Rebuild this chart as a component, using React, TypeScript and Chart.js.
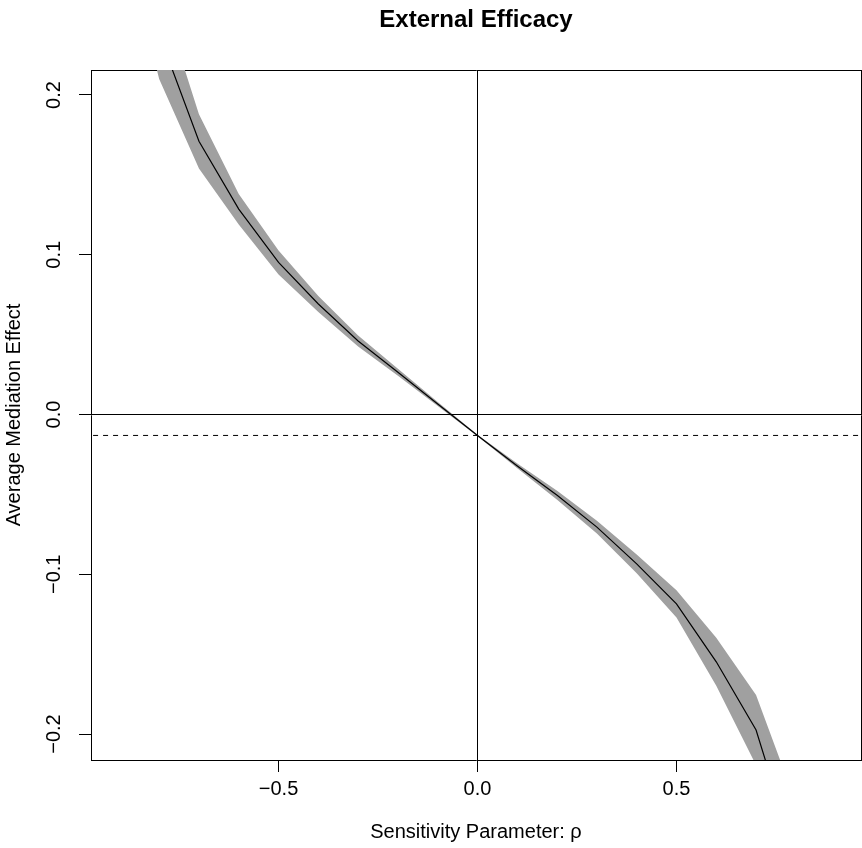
import React, { useEffect, useRef } from 'react';
import { Chart, registerables } from 'chart.js';

Chart.register(...registerables);

// ---- data ----
const rho = [-0.9, -0.8, -0.7, -0.6, -0.5, -0.4, -0.3, -0.2, -0.1, 0, 0.1, 0.2, 0.3, 0.4, 0.5, 0.6, 0.7, 0.8, 0.9];
const estimate = [0.36, 0.238, 0.171, 0.1286, 0.0952, 0.0692, 0.046, 0.0265, 0.0066, -0.0131, -0.0322, -0.0505, -0.0705, -0.0935, -0.1185, -0.1548, -0.1975, -0.278, -0.42];
const lowerCI = [0.31, 0.21, 0.154, 0.119, 0.0877, 0.0642, 0.0425, 0.0243, 0.0054, -0.0136, -0.0337, -0.0533, -0.0745, -0.0993, -0.127, -0.1698, -0.2195, -0.313, -0.48];
const upperCI = [0.41, 0.266, 0.188, 0.138, 0.1027, 0.0742, 0.0495, 0.0287, 0.0078, -0.0126, -0.0307, -0.0477, -0.0665, -0.0877, -0.11, -0.1398, -0.1755, -0.243, -0.36];
const acmeEstimate = -0.0131;
const xTickValues = [-0.5, 0, 0.5];
const yTickValues = [-0.2, -0.1, 0, 0.1, 0.2];
const titleText = 'External Efficacy';
const xLabel = 'Sensitivity Parameter: \u03c1';
const yLabel = 'Average Mediation Effect';
const xRange = [-0.9713, 0.9637];
const yRange = [-0.21626, 0.21564];

const FONT = "'Liberation Sans', Arial, Helvetica, sans-serif";

function fmt(v: number): string {
  const s = Math.abs(v) < 1e-9 ? '0.0' : v.toFixed(1);
  return s.replace('-', '\u2212');
}

export default function App() {
  const ref = useRef<HTMLCanvasElement>(null);

  useEffect(() => {
    document.body.style.margin = '0';
    const pts = (ys: number[]) => rho.map((r, i) => ({ x: r, y: ys[i] }));
    const axisCommon = {
      type: 'linear' as const,
      border: { display: true, color: '#000', width: 1 },
    };
    const chart = new Chart(ref.current as HTMLCanvasElement, {
      type: 'line',
      data: {
        datasets: [
          { label: 'lower', data: pts(lowerCI), borderWidth: 0, borderColor: 'rgba(0,0,0,0)', pointRadius: 0, fill: false, order: 6 },
          { label: 'upper', data: pts(upperCI), borderWidth: 0, borderColor: 'rgba(0,0,0,0)', pointRadius: 0, fill: '-1', backgroundColor: '#a0a0a0', order: 5 },
          { label: 'estimate', data: pts(estimate), borderColor: '#000', borderWidth: 1.2, pointRadius: 0, fill: false, order: 4 },
          { label: 'zeroH', data: [{ x: xRange[0] - 1, y: 0 }, { x: xRange[1] + 1, y: 0 }], borderColor: '#000', borderWidth: 1, pointRadius: 0, fill: false, order: 3 },
          { label: 'zeroV', data: [{ x: 0, y: yRange[0] - 1 }, { x: 0, y: yRange[1] + 1 }], borderColor: '#000', borderWidth: 1, pointRadius: 0, fill: false, order: 2 },
          { label: 'acme', data: [{ x: xRange[0] - 1, y: acmeEstimate }, { x: xRange[1] + 1, y: acmeEstimate }], borderColor: '#000', borderWidth: 1, borderDash: [5, 5], pointRadius: 0, fill: false, order: 1 },
        ],
      },
      options: {
        animation: false,
        responsive: false,
        devicePixelRatio: 1,
        layout: { padding: 0 },
        plugins: {
          legend: { display: false },
          tooltip: { enabled: false },
          title: {
            display: true,
            fullSize: false,
            text: titleText,
            color: '#000',
            font: { family: FONT, size: 24, weight: 'bold', lineHeight: '28px' },
            padding: { top: 6, bottom: 0 },
          },
        },
        scales: {
          x: {
            ...axisCommon,
            position: 'bottom',
            min: xRange[0],
            max: xRange[1],
            afterBuildTicks: (s: any) => { s.ticks = xTickValues.map((v) => ({ value: v })); },
            afterFit: (s: any) => { s.height = 88; },
            grid: { display: true, drawOnChartArea: false, drawTicks: true, tickLength: 12, color: '#000', lineWidth: 1 },
            ticks: { color: '#000', font: { family: FONT, size: 20 }, padding: 5, minRotation: 0, maxRotation: 0, callback: (v: any) => fmt(Number(v)) },
            title: { display: true, text: xLabel, color: '#000', font: { family: FONT, size: 20 }, padding: { top: 0, bottom: 4 } },
          },
          y: {
            ...axisCommon,
            position: 'left',
            min: yRange[0],
            max: yRange[1],
            afterBuildTicks: (s: any) => { s.ticks = yTickValues.map((v) => ({ value: v })); },
            afterFit: (s: any) => { s.width = 91; },
            grid: { display: true, drawOnChartArea: false, drawTicks: true, tickLength: 12, color: '#000', lineWidth: 1 },
            ticks: { color: '#000', font: { family: FONT, size: 20 }, padding: 5, minRotation: 90, maxRotation: 90, crossAlign: 'center', callback: (v: any) => fmt(Number(v)) },
            title: { display: true, text: yLabel, color: '#000', font: { family: FONT, size: 20 }, padding: { top: 2, bottom: 0 } },
          },
          x2: {
            ...axisCommon,
            position: 'top',
            min: xRange[0],
            max: xRange[1],
            afterFit: (s: any) => { s.height = 36; },
            grid: { display: false, drawOnChartArea: false },
            ticks: { display: false },
          },
          y2: {
            ...axisCommon,
            position: 'right',
            min: yRange[0],
            max: yRange[1],
            afterFit: (s: any) => { s.width = 1; },
            grid: { display: false, drawOnChartArea: false },
            ticks: { display: false },
          },
        },
      } as any,
    });
    return () => chart.destroy();
  }, []);

  return (
    <div style={{ width: 862, height: 848, background: '#fff' }}>
      <canvas ref={ref} width={862} height={848} style={{ display: 'block' }} />
    </div>
  );
}
